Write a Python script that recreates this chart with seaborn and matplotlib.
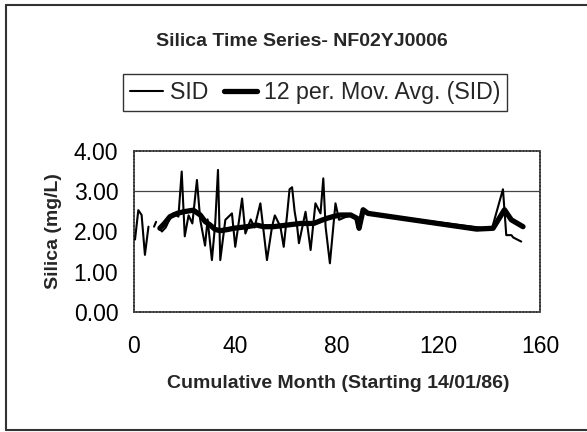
import numpy as np
import pandas as pd
import matplotlib
matplotlib.use("Agg")
import matplotlib.pyplot as plt
from matplotlib.lines import Line2D
import seaborn as sns

# ---- data ----
sid_month = [0.4, 1.7, 3.0, 4.3, 5.7,
             7.9, 8.7,
             10.0, 11.0, 12.5, 14.2, 15.5, 17.5, 18.8, 20.0, 21.5, 23.0, 24.8, 26.1,
             28.0, 29.0, 30.7, 32.0, 33.1, 34.0, 36.0, 38.6, 39.9, 41.0, 42.6, 43.9,
             46.0, 47.5, 49.8, 52.4, 54.4, 55.5, 57.7, 59.0, 60.3, 61.3, 62.3, 63.3,
             64.3, 65.0, 67.6, 69.6, 71.5, 73.5, 74.6, 75.5, 77.2, 79.4, 80.8, 83.0,
             85.5, 87.8, 88.7, 90.3, 92.2, 141.0, 145.4, 146.7, 148.7, 149.5, 152.6]
sid_value = [1.80, 2.53, 2.41, 1.42, 2.12,
             2.12, 2.24,
             2.08, 2.00, 2.10, 2.33, 2.45, 2.37, 3.49, 1.88, 2.40, 2.20, 3.28, 2.29,
             1.65, 2.30, 1.29, 2.20, 3.53, 1.29, 2.29, 2.45, 1.62, 2.10, 2.82, 1.95,
             2.30, 2.10, 2.70, 1.29, 2.12, 2.40, 2.12, 1.62, 2.40, 3.05, 3.10, 2.50,
             2.12, 1.71, 2.49, 1.54, 2.70, 2.45, 3.32, 2.12, 1.21, 2.70, 2.29, 2.35,
             2.40, 2.33, 2.08, 2.54, 2.45, 2.06, 3.05, 1.91, 1.91, 1.85, 1.75]
sid_segment = [0] * 5 + [1] * 2 + [2] * 59

ma_month = [10.2, 12.0, 14.2, 17.0, 19.5, 23.4, 26.1, 28.0, 30.0, 32.0, 34.0,
            37.0, 39.3, 42.0, 44.5, 48.3, 51.0, 55.0, 60.3, 65.6, 70.8, 74.0,
            76.2, 79.0, 81.4, 85.4, 87.8, 88.7, 90.3, 92.2, 135.0, 141.5, 146.0,
            148.7, 153.3]
ma_value = [2.08, 2.20, 2.37, 2.45, 2.49, 2.53, 2.41, 2.25, 2.16, 2.05, 2.02,
            2.05, 2.08, 2.10, 2.12, 2.16, 2.12, 2.12, 2.16, 2.20, 2.20, 2.28,
            2.33, 2.38, 2.41, 2.41, 2.33, 2.08, 2.54, 2.45, 2.06, 2.08, 2.54,
            2.29, 2.12]

x_ticks = [0, 40, 80, 120, 160]
y_ticks = [0, 1, 2, 3, 4]
ref_line = 3.0

title = "Silica Time Series- NF02YJ0006"
xlabel = "Cumulative Month (Starting 14/01/86)"
ylabel = "Silica (mg/L)"
legend_labels = ["SID", "12 per. Mov. Avg. (SID)"]

# ---- plot ----
sns.set_style("white")
plt.rcParams['font.family'] = ['Liberation Sans', 'DejaVu Sans']

fig = plt.figure(figsize=(5.87, 4.32), dpi=100)
ax = fig.add_axes([134 / 587, 1 - 312 / 432, (540 - 134) / 587, (312 - 151) / 432])

sid_df = pd.DataFrame({"month": sid_month, "value": sid_value, "seg": sid_segment})
ma_df = pd.DataFrame({"month": ma_month, "value": ma_value})

ax.axhline(ref_line, color="#444444", lw=0.9, zorder=1)
sns.lineplot(data=sid_df, x="month", y="value", units="seg", estimator=None,
             color="black", lw=1.5, ax=ax, zorder=3, legend=False)
sns.lineplot(data=ma_df, x="month", y="value", estimator=None,
             color="black", lw=3.8, ax=ax, zorder=2, legend=False)

ax.set_xlim(0, 160)
ax.set_ylim(0, 4)
ax.set_xticks(x_ticks)
ax.set_yticks(y_ticks)
ax.set_yticklabels([f"{v:.2f}" for v in y_ticks])
ax.set_xticklabels([str(v) for v in x_ticks])
ax.set_xlabel("")
ax.set_ylabel("")
ax.tick_params(axis="both", direction="out", length=4.3, width=0.9, color="black",
               labelsize=16.5, labelcolor="black")
ax.tick_params(axis="y", pad=7)
ax.tick_params(axis="x", pad=12)
ax.grid(False)
for s in ax.spines.values():
    s.set_visible(True)
    s.set_color("#333333")
    s.set_linestyle((0, (1.2, 0.8)))
    s.set_linewidth(1.2)

fig.text(302 / 587, 1 - 41 / 432, title, ha="center", va="center",
         fontsize=14, fontweight="bold")
fig.text(338 / 587, 1 - 383 / 432, xlabel, ha="center", va="center",
         fontsize=14, fontweight="bold")
fig.text(53 / 587, 1 - 231 / 432, ylabel, ha="center", va="center",
         fontsize=14, fontweight="bold", rotation=90)

handles = [Line2D([], [], color="black", lw=1.5), Line2D([], [], color="black", lw=3.8)]
leg = fig.legend(handles, legend_labels, loc="center", bbox_to_anchor=(315 / 587, 1 - 92.5 / 432),
                 ncol=2, fontsize=16.7, frameon=True, fancybox=False, edgecolor="black",
                 handlelength=1.4, handletextpad=0.3, columnspacing=0.7,
                 borderpad=0.3, borderaxespad=0)
leg.get_frame().set_linewidth(1.0)

# outer chart border (top, left, bottom)
fig.add_artist(Line2D([6 / 587, 1.0], [1 - 5 / 432, 1 - 5 / 432], color="#333333", lw=1.5,
                      transform=fig.transFigure))
fig.add_artist(Line2D([6 / 587, 6 / 587], [1 - 5 / 432, 1 - 430 / 432], color="#333333", lw=1.5,
                      transform=fig.transFigure))
fig.add_artist(Line2D([6 / 587, 1.0], [1 - 430 / 432, 1 - 430 / 432], color="#333333", lw=1.5,
                      transform=fig.transFigure))

fig.savefig("out.png", dpi=100)
